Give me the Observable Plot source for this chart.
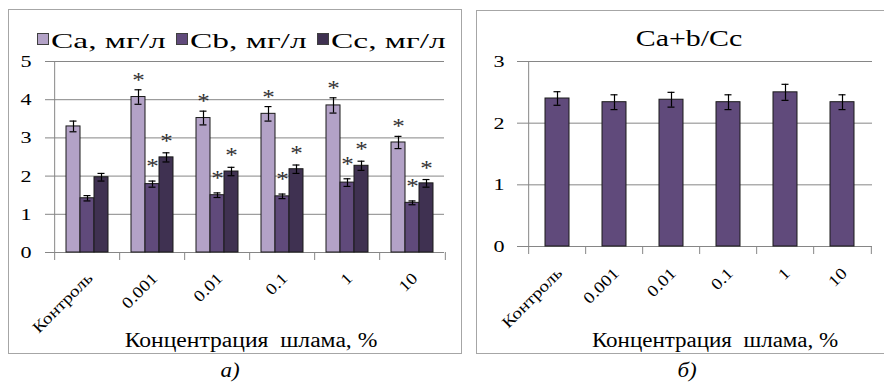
<!DOCTYPE html>
<html>
<head>
<meta charset="utf-8">
<script src="https://cdn.jsdelivr.net/npm/d3@7"></script>
<script src="https://cdn.jsdelivr.net/npm/@observablehq/plot@0.6"></script>
<style>
  body { margin: 0; background: #fff; }
  #page { position: relative; width: 884px; height: 384px; overflow: hidden; background: #fff;
          font-family: "Liberation Serif", "Times New Roman", Times, "DejaVu Serif", serif; color: #000; }
  .panel { position: absolute; border: 1px solid #a6a6a6; box-sizing: border-box; }
  .txt { position: absolute; white-space: pre; line-height: 1; }
  .wide { transform-origin: 0 50%; }
  .swatch { position: absolute; width: 10px; height: 10px; border: 1px solid #404040; }
  .chart { position: absolute; }
</style>
</head>
<body>
<div id="page">
  <div class="panel" style="left:8px; top:9px; width:454px; height:345px;"></div>
  <div class="panel" style="left:476px; top:10px; width:420px; height:344px;"></div>
  <div id="legend"></div>
  <div class="txt" style="left:689px; top:26.5px; font-size:23px; transform:translateX(-50%) scaleX(1.3);">Ca+b/Cc</div>
  <div class="txt" style="left:251px; top:330px; font-size:20px; transform:translateX(-50%) scaleX(1.18);">Концентрация  шлама, %</div>
  <div class="txt" style="left:715px; top:330px; font-size:20px; transform:translateX(-50%) scaleX(1.15);">Концентрация  шлама, %</div>
  <div class="txt" style="left:230px; top:360px; font-size:20px; font-style:italic; transform:translateX(-50%) scaleX(1.15);">а)</div>
  <div class="txt" style="left:687px; top:360px; font-size:20px; font-style:italic; transform:translateX(-50%) scaleX(1.15);">б)</div>
  <div id="chartA" class="chart" style="left:0px; top:40px;"></div>
  <div id="chartB" class="chart" style="left:470px; top:40px;"></div>
</div>
<script>
// Sludge concentration groups (x categories)
const categories = ["Контроль", "0.001", "0.01", "0.1", "1", "10"];

// Pigment series: names and fills
const seriesNames = ["Ca, мг/л", "Cb, мг/л", "Cc, мг/л"];
const seriesColors = ["#b3a2c7", "#604a7b", "#3f3151"];

// Chlorophyll a
const caValues = [3.30, 4.07, 3.52, 3.63, 3.85, 2.88];
const caErrors = [0.14, 0.19, 0.18, 0.19, 0.20, 0.16];
const caMarked = [false, true, true, true, true, true];

// Chlorophyll b
const cbValues = [1.42, 1.79, 1.50, 1.47, 1.83, 1.30];
const cbErrors = [0.07, 0.08, 0.06, 0.06, 0.10, 0.05];
const cbMarked = [false, true, true, true, true, true];

// Carotenoids
const ccValues = [1.97, 2.49, 2.12, 2.18, 2.27, 1.81];
const ccErrors = [0.10, 0.12, 0.11, 0.11, 0.12, 0.10];
const ccMarked = [false, true, true, true, true, true];

// (a+b)/carotenoid ratio
const ratioValues = [2.40, 2.34, 2.38, 2.34, 2.50, 2.34];
const ratioErrors = [0.11, 0.12, 0.12, 0.12, 0.13, 0.12];

// Axis ticks
const yTicksA = [0, 1, 2, 3, 4, 5];
const yTicksB = [0, 1, 2, 3];

const gridColor = "#868686";
const fontStack = "'Liberation Serif', 'Times New Roman', Times, 'DejaVu Serif', serif";

// Long table for the grouped chart
const seriesData = [
  [caValues, caErrors, caMarked],
  [cbValues, cbErrors, cbMarked],
  [ccValues, ccErrors, ccMarked]
];
const rows = [];
seriesData.forEach(([vals, errs, marks], s) => {
  categories.forEach((cat, i) => {
    rows.push({cat, series: seriesNames[s], value: vals[i], err: errs[i], marked: marks[i]});
  });
});
const ratioRows = categories.map((cat, i) => ({cat, value: ratioValues[i], err: ratioErrors[i]}));

// Widen SVG labels along their baseline (anchor stays put); needs the svg in the document
function widenText(svg, selector, s) {
  svg.querySelectorAll(selector).forEach(t => {
    const len = t.getComputedTextLength();
    if (len > 0) {
      t.setAttribute("textLength", (len * s).toFixed(2));
      t.setAttribute("lengthAdjust", "spacingAndGlyphs");
    }
  });
}

// Legend: swatch + label per series
const legend = document.getElementById("legend");
const legendX = [37, 176, 317];
seriesNames.forEach((name, i) => {
  const sw = document.createElement("div");
  sw.className = "swatch";
  sw.style.left = legendX[i] + "px";
  sw.style.top = "33px";
  sw.style.background = seriesColors[i];
  legend.appendChild(sw);
  const t = document.createElement("div");
  t.className = "txt wide";
  t.style.left = (legendX[i] + 14) + "px";
  t.style.top = "30px";
  t.style.fontSize = "22px";
  t.style.transform = "scaleX(1.52)";
  t.textContent = name;
  legend.appendChild(t);
});

// ---- Chart а): grouped bars by concentration ----
const W1 = 460, H1 = 300, ML1 = 52, MR1 = 14, MT1 = 21, MB1 = 88;
const step1 = (W1 - ML1 - MR1) / categories.length;
const mid = () => seriesNames[1];
const firstCat = [{cat: categories[0]}];
const lastCat = [{cat: categories[categories.length - 1]}];
const catRows = categories.map(cat => ({cat}));
const intFormat = d => String(d);

const chartA = Plot.plot({
  width: W1, height: H1,
  marginLeft: ML1, marginRight: MR1, marginTop: MT1, marginBottom: MB1,
  style: {fontFamily: fontStack, fontSize: "16px", color: "#000", background: "transparent", overflow: "visible"},
  fx: {domain: categories, padding: 0, label: null, axis: null},
  x: {domain: seriesNames, paddingInner: 0, paddingOuter: 0.69, axis: null},
  y: {domain: [0, 5], label: null, axis: null},
  color: {domain: seriesNames, range: seriesColors},
  marks: [
    Plot.ruleY(yTicksA.slice(1), {stroke: gridColor, strokeWidth: 1}),
    Plot.ruleY([0], {stroke: gridColor, strokeWidth: 1}),
    Plot.axisY({ticks: yTicksA, tickFormat: intFormat, tickSize: 9, tickPadding: 14, stroke: gridColor, fontSize: 17, label: null}),
    Plot.ruleX(firstCat, {fx: "cat", x: mid, y1: 0, y2: 5, dx: -step1 / 2, stroke: gridColor}),
    Plot.ruleX(catRows, {fx: "cat", x: mid, y1: 0, y2: 0, insetBottom: -8, dx: -step1 / 2, stroke: gridColor}),
    Plot.ruleX(lastCat, {fx: "cat", x: mid, y1: 0, y2: 0, insetBottom: -8, dx: step1 / 2, stroke: gridColor}),
    Plot.barY(rows, {fx: "cat", x: "series", y: "value", fill: "series", stroke: "#1a1a1a", strokeWidth: 1}),
    Plot.ruleX(rows, {fx: "cat", x: "series", y1: d => d.value - d.err, y2: d => d.value + d.err, stroke: "#000", strokeWidth: 1.2}),
    Plot.tickY(rows, {fx: "cat", x: "series", y: d => d.value + d.err, insetLeft: 3.5, insetRight: 3.5, stroke: "#000", strokeWidth: 1.2}),
    Plot.tickY(rows, {fx: "cat", x: "series", y: d => d.value - d.err, insetLeft: 3.5, insetRight: 3.5, stroke: "#000", strokeWidth: 1.2}),
    Plot.text(rows.filter(d => d.marked && d.series === seriesNames[0]),
      {fx: "cat", x: "series", y: d => d.value + d.err, text: () => "*", lineAnchor: "bottom", dy: -3, fontSize: 20, fill: "#333"}),
    Plot.text(rows.filter(d => d.marked && d.series === seriesNames[1]),
      {fx: "cat", x: "series", y: d => d.value + d.err, text: () => "*", lineAnchor: "bottom", dy: -8, fontSize: 20, fill: "#333"}),
    Plot.text(rows.filter(d => d.marked && d.series === seriesNames[2]),
      {fx: "cat", x: "series", y: d => d.value + d.err, text: () => "*", lineAnchor: "bottom", dy: -5, fontSize: 20, fill: "#333"}),
    Plot.axisFx({anchor: "bottom", tickSize: 0, tickPadding: 23, tickRotate: -45, fontSize: 16, label: null, dx: 3})
  ]
});
document.getElementById("chartA").appendChild(chartA);
widenText(chartA, 'g[aria-label="y-axis tick label"] text', 1.3);
widenText(chartA, 'g[aria-label="fx-axis tick label"] text', 1.2);
widenText(chartA, 'g[aria-label="text"] text', 1.25);

// ---- Chart б): pigment ratio ----
const W2 = 414, H2 = 300, ML2 = 56, MR2 = 12, MT2 = 21, MB2 = 94;
const step2 = (W2 - ML2 - MR2) / categories.length;

const chartB = Plot.plot({
  width: W2, height: H2,
  marginLeft: ML2, marginRight: MR2, marginTop: MT2, marginBottom: MB2,
  style: {fontFamily: fontStack, fontSize: "16px", color: "#000", background: "transparent", overflow: "visible"},
  x: {domain: categories, paddingInner: 0.584, paddingOuter: 0.292, label: null, axis: null},
  y: {domain: [0, 3], label: null, axis: null},
  marks: [
    Plot.ruleY(yTicksB.slice(1), {stroke: gridColor, strokeWidth: 1}),
    Plot.ruleY([0], {stroke: gridColor, strokeWidth: 1}),
    Plot.axisY({ticks: yTicksB, tickFormat: intFormat, tickSize: 9, tickPadding: 13, stroke: gridColor, fontSize: 17, label: null}),
    Plot.ruleX([categories[0]], {x: d => d, y1: 0, y2: 3, dx: -step2 / 2, stroke: gridColor}),
    Plot.ruleX(categories, {x: d => d, y1: 0, y2: 0, insetBottom: -8, dx: -step2 / 2, stroke: gridColor}),
    Plot.ruleX([categories[categories.length - 1]], {x: d => d, y1: 0, y2: 0, insetBottom: -8, dx: step2 / 2, stroke: gridColor}),
    Plot.barY(ratioRows, {x: "cat", y: "value", fill: "#604a7b", stroke: "#1a1a1a", strokeWidth: 1}),
    Plot.ruleX(ratioRows, {x: "cat", y1: d => d.value - d.err, y2: d => d.value + d.err, stroke: "#000", strokeWidth: 1.2}),
    Plot.tickY(ratioRows, {x: "cat", y: d => d.value + d.err, insetLeft: 8.5, insetRight: 8.5, stroke: "#000", strokeWidth: 1.2}),
    Plot.tickY(ratioRows, {x: "cat", y: d => d.value - d.err, insetLeft: 8.5, insetRight: 8.5, stroke: "#000", strokeWidth: 1.2}),
    Plot.axisX({anchor: "bottom", tickSize: 0, tickPadding: 24, tickRotate: -45, fontSize: 16, label: null, dx: 2})
  ]
});
document.getElementById("chartB").appendChild(chartB);
widenText(chartB, 'g[aria-label="y-axis tick label"] text', 1.3);
widenText(chartB, 'g[aria-label="x-axis tick label"] text', 1.2);
</script>
</body>
</html>
